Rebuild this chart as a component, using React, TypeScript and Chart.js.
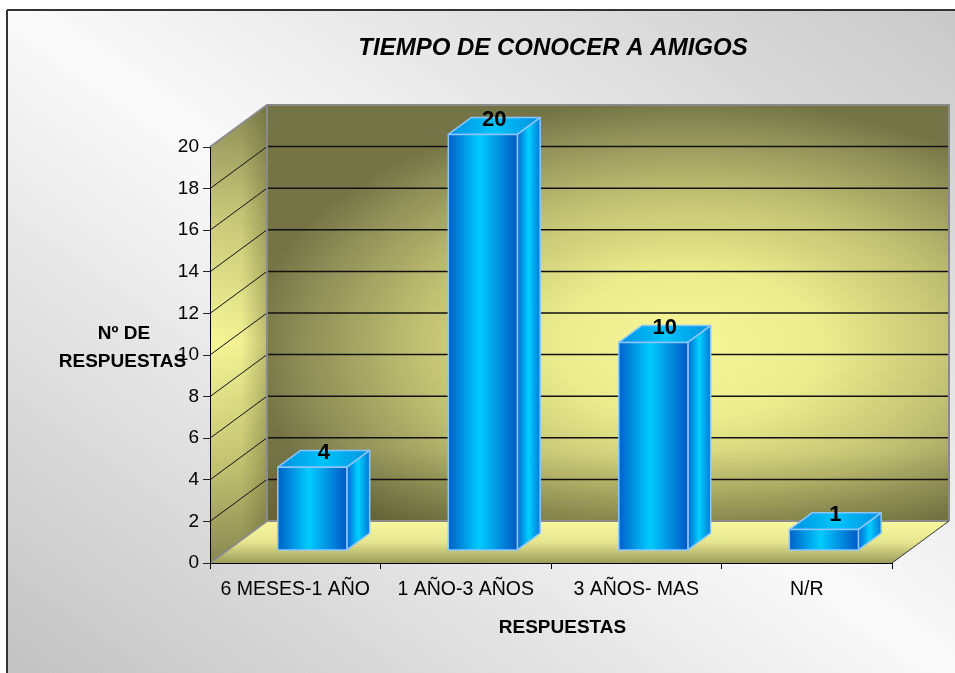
import { useEffect, useRef } from 'react';
import { Chart, registerables } from 'chart.js';

Chart.register(...registerables);

// ---- data ----
const categories = ['6 MESES-1 AÑO', '1 AÑO-3 AÑOS', '3 AÑOS- MAS', 'N/R'];
const respuestas = [4, 20, 10, 1];
const chartTitle = 'TIEMPO DE CONOCER A AMIGOS';
const yTitleLines = ['Nº DE', 'RESPUESTAS'];
const xTitle = 'RESPUESTAS';
const yMin = 0;
const yMax = 20;
const yStep = 2;

// ---- layout / style ----
const W = 955;
const H = 673;
const DX = 57;
const DY = -42;
const BAR_FRONT = 0.3;
const BAR_BACK = 0.7;
const FONT = '"Liberation Sans", Arial, Helvetica, sans-serif';

function poly(ctx: CanvasRenderingContext2D, pts: number[][]) {
  ctx.beginPath();
  ctx.moveTo(pts[0][0], pts[0][1]);
  for (let i = 1; i < pts.length; i++) ctx.lineTo(pts[i][0], pts[i][1]);
  ctx.closePath();
}

function line(ctx: CanvasRenderingContext2D, x1: number, y1: number, x2: number, y2: number) {
  ctx.beginPath();
  ctx.moveTo(x1, y1);
  ctx.lineTo(x2, y2);
  ctx.stroke();
}

const threeD = {
  id: 'threeD',
  beforeDraw(chart: any) {
    const ctx: CanvasRenderingContext2D = chart.ctx;
    const { left, right, top, bottom } = chart.chartArea;
    const ys = chart.scales.y;
    ctx.save();
    // page background
    ctx.fillStyle = '#ffffff';
    ctx.fillRect(0, 0, W, H);
    // chart area background gradient (light diagonal band)
    const cx = W / 2, cy = H / 2;
    const n = Math.sqrt(W * W + H * H);
    const ux = H / n, uy = -W / n;
    const k = (W * H) / n;
    const bg = ctx.createLinearGradient(cx - k * ux, cy - k * uy, cx + k * ux, cy + k * uy);
    bg.addColorStop(0, '#c2c2c2');
    bg.addColorStop(0.5, '#fafafa');
    bg.addColorStop(1, '#c8c8c8');
    ctx.fillStyle = bg;
    ctx.fillRect(7, 10, W, H);
    ctx.strokeStyle = '#333333';
    ctx.lineWidth = 2;
    line(ctx, 7, 10, W + 2, 10);
    line(ctx, 7, 10, 7, H + 2);

    const bl = left + DX, br = right + DX;
    const bt = top + DY, bb = bottom + DY;

    // back wall
    ctx.save();
    const rcx = 690, rcy = 345, rx = 440, ry = 245;
    ctx.translate(rcx, rcy);
    ctx.scale(1, ry / rx);
    const rg = ctx.createRadialGradient(0, 0, 0, 0, 0, rx);
    rg.addColorStop(0, '#f7f798');
    rg.addColorStop(0.3, '#ecec8e');
    rg.addColorStop(0.62, '#c0c072');
    rg.addColorStop(0.88, '#8e8e58');
    rg.addColorStop(1, '#747446');
    ctx.fillStyle = rg;
    ctx.fillRect(bl - rcx, (bt - rcy) * (rx / ry), br - bl, (bb - bt) * (rx / ry));
    ctx.restore();
    const bo = ctx.createLinearGradient(0, bb - 70, 0, bb);
    bo.addColorStop(0, 'rgba(70,70,30,0)');
    bo.addColorStop(1, 'rgba(70,70,30,0.35)');
    ctx.fillStyle = bo;
    ctx.fillRect(bl, bb - 70, br - bl, 70);

    // side wall
    poly(ctx, [[left, top], [bl, bt], [bl, bb], [left, bottom]]);
    const sg = ctx.createLinearGradient(0, bt, 0, bottom);
    sg.addColorStop(0, '#8c8c58');
    sg.addColorStop(0.22, '#c4c476');
    sg.addColorStop(0.52, '#f6f696');
    sg.addColorStop(0.8, '#c0c070');
    sg.addColorStop(1, '#88884f');
    ctx.fillStyle = sg;
    ctx.fill();
    const sh = ctx.createLinearGradient(left, 0, bl, 0);
    sh.addColorStop(0, 'rgba(60,60,20,0)');
    sh.addColorStop(0.55, 'rgba(60,60,20,0.02)');
    sh.addColorStop(1, 'rgba(60,60,20,0.3)');
    ctx.fillStyle = sh;
    ctx.fill();

    // floor
    poly(ctx, [[left, bottom], [bl, bb], [br, bb], [right, bottom]]);
    const fg = ctx.createLinearGradient(0, bb, 0, bottom);
    fg.addColorStop(0, '#f8f8a0');
    fg.addColorStop(0.5, '#e6e690');
    fg.addColorStop(1, '#9c9c5c');
    ctx.fillStyle = fg;
    ctx.fill();

    // gridlines
    ctx.strokeStyle = '#111111';
    for (let v = yMin + yStep; v < yMax; v += yStep) {
      const py = ys.getPixelForValue(v);
      ctx.lineWidth = 1.5;
      line(ctx, bl, py + DY, br, py + DY);
      ctx.lineWidth = 1;
      line(ctx, left, py, bl, py + DY);
    }

    // wall edges
    ctx.strokeStyle = '#8a8a8a';
    ctx.lineWidth = 2;
    ctx.beginPath();
    ctx.moveTo(left, top);
    ctx.lineTo(bl, bt);
    ctx.lineTo(br, bt);
    ctx.lineTo(br, bb);
    ctx.stroke();
    line(ctx, bl, bt, bl, bb);
    line(ctx, bl, bb, br, bb);
    line(ctx, left, bottom, bl, bb);
    ctx.strokeStyle = '#333333';
    ctx.lineWidth = 1;
    line(ctx, right, bottom, br, bb);
    ctx.restore();
  },
  afterDatasetsDraw(chart: any) {
    const ctx: CanvasRenderingContext2D = chart.ctx;
    const meta = chart.getDatasetMeta(0);
    const ox = BAR_FRONT * DX, oy = BAR_FRONT * DY;
    const dx = (BAR_BACK - BAR_FRONT) * DX, dy = (BAR_BACK - BAR_FRONT) * DY;
    ctx.save();
    meta.data.forEach((el: any, i: number) => {
      const { x, y, base, width } = el.getProps(['x', 'y', 'base', 'width'], true);
      const l = x - width / 2 + ox, r = x + width / 2 + ox;
      const t = y + oy, b = base + oy;
      ctx.lineWidth = 1.5;
      ctx.strokeStyle = '#8cc6ff';
      ctx.lineJoin = 'round';
      // top face
      poly(ctx, [[l, t], [l + dx, t + dy], [r + dx, t + dy], [r, t]]);
      const tg = ctx.createLinearGradient(l, 0, r + dx, 0);
      tg.addColorStop(0, '#0090e0');
      tg.addColorStop(0.5, '#00c4fa');
      tg.addColorStop(1, '#0090e0');
      ctx.fillStyle = tg;
      ctx.fill();
      ctx.stroke();
      // side face
      poly(ctx, [[r, t], [r + dx, t + dy], [r + dx, b + dy], [r, b]]);
      const sg = ctx.createLinearGradient(r, 0, r + dx, 0);
      sg.addColorStop(0, '#0068d0');
      sg.addColorStop(0.5, '#00d0ff');
      sg.addColorStop(1, '#0078d8');
      ctx.fillStyle = sg;
      ctx.fill();
      ctx.stroke();
      // front face
      poly(ctx, [[l, t], [r, t], [r, b], [l, b]]);
      const fg = ctx.createLinearGradient(l, 0, r, 0);
      fg.addColorStop(0, '#0060c8');
      fg.addColorStop(0.45, '#00ccff');
      fg.addColorStop(1, '#0058c4');
      ctx.fillStyle = fg;
      ctx.fill();
      ctx.stroke();
      // data label
      ctx.fillStyle = '#000000';
      ctx.font = 'bold 22px ' + FONT;
      ctx.textAlign = 'center';
      ctx.textBaseline = 'alphabetic';
      ctx.fillText(String(respuestas[i]), x + ox + dx / 2, t + dy / 2);
    });
    ctx.restore();
  },
  afterDraw(chart: any) {
    const ctx: CanvasRenderingContext2D = chart.ctx;
    ctx.save();
    ctx.fillStyle = '#000000';
    ctx.textAlign = 'center';
    ctx.textBaseline = 'middle';
    ctx.font = 'italic bold 24px ' + FONT;
    ctx.fillText(chartTitle, 553, 48);
    ctx.font = 'bold 19px ' + FONT;
    ctx.fillText(yTitleLines[0], 124, 334);
    ctx.fillText(yTitleLines[1], 122.5, 361.5);
    ctx.fillText(xTitle, 562.5, 627.5);
    ctx.restore();
  },
};

export default function App() {
  const ref = useRef<HTMLCanvasElement | null>(null);
  useEffect(() => {
    if (!ref.current) return;
    const chart = new Chart(ref.current, {
      type: 'bar',
      data: {
        labels: categories,
        datasets: [
          {
            data: respuestas,
            backgroundColor: 'rgba(0,0,0,0)',
            borderWidth: 0,
            barPercentage: 0.405,
            categoryPercentage: 1,
          },
        ],
      },
      options: {
        responsive: false,
        animation: false,
        devicePixelRatio: 1,
        layout: { padding: { top: 147, right: 63, bottom: 0, left: 0 } },
        plugins: {
          legend: { display: false },
          title: { display: false },
          tooltip: { enabled: false },
        },
        scales: {
          x: {
            offset: true,
            grid: { offset: true, drawOnChartArea: false, tickLength: 6, color: '#000000' },
            border: { color: '#000000', width: 1 },
            ticks: { color: '#000000', font: { family: FONT, size: 19.5 }, padding: 9, maxRotation: 0, autoSkip: false },
            afterFit: (s: any) => {
              s.height = 110;
            },
          },
          y: {
            min: yMin,
            max: yMax,
            grid: { drawOnChartArea: false, tickLength: 7, color: '#222222' },
            border: { color: '#000000', width: 1 },
            ticks: { stepSize: yStep, color: '#000000', font: { family: FONT, size: 19 }, padding: 4 },
            afterFit: (s: any) => {
              s.width = 210;
            },
          },
        },
      },
      plugins: [threeD],
    } as any);
    return () => chart.destroy();
  }, []);
  return (
    <div style={{ position: 'absolute', left: 0, top: 0, width: W, height: H }}>
      <canvas ref={ref} width={W} height={H} style={{ display: 'block', width: W, height: H }} />
    </div>
  );
}
